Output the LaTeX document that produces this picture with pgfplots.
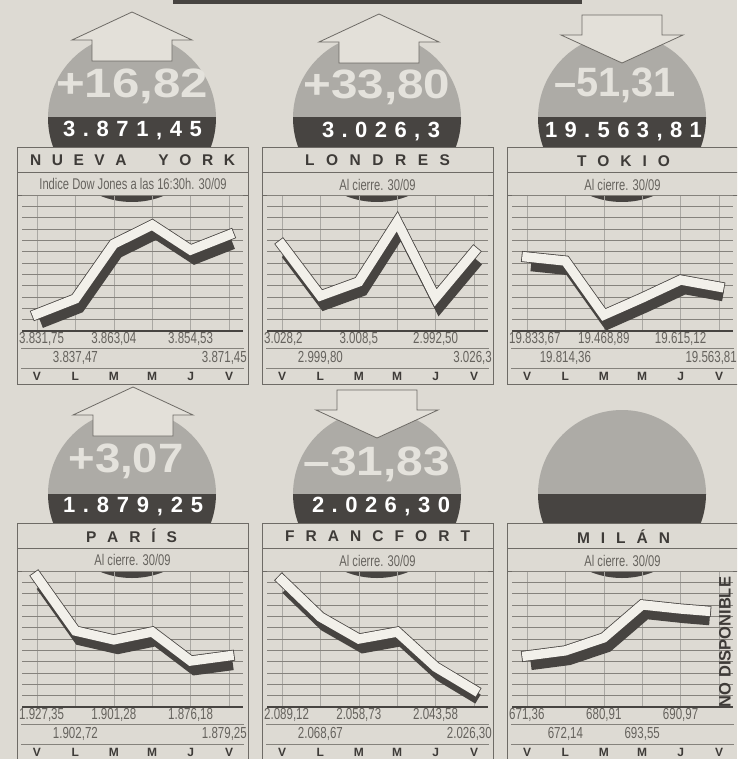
\documentclass[border=0pt]{standalone}
\usepackage{pgfplots}
\pgfplotsset{compat=1.18}
\usepackage{pgfplotstable}
\usepackage{graphicx}
\usepackage{fontspec}
\setmainfont{Liberation Sans}
\newfontfamily\cond[FakeStretch=0.72]{Liberation Sans}

\definecolor{paper}{HTML}{DDDAD3}
\definecolor{lightg}{HTML}{ADABA6}
\definecolor{darkc}{HTML}{474441}
\definecolor{boxc}{HTML}{6E6B66}
\definecolor{gridc}{HTML}{85827C}
\definecolor{txtc}{HTML}{3E3B38}
\definecolor{lblc}{HTML}{66635E}
\definecolor{bignumc}{HTML}{E4E2DC}
\definecolor{bandw}{HTML}{F2F0EA}
\definecolor{arrowf}{HTML}{E3E0D9}

\pgfplotstableread{
x y
0 3829.6
1 3836.9
2 3863.4
3 3872.6
4 3860.5
5 3867.8
}\nydata
\pgfplotstableread{
x y
0 3030.3
1 2997.2
2 3006.3
3 3045.2
4 2995.9
5 3025.7
}\londata
\pgfplotstableread{
x y
0 19823.0
1 19794.5
2 19409.9
3 19531.0
4 19659.2
5 19609.3
}\tokdata
\pgfplotstableread{
x y
0 1933.4
1 1898.6
2 1892.9
3 1898.0
4 1879.3
5 1882.6
}\pardata
\pgfplotstableread{
x y
0 2090.1
1 2069.4
2 2057.1
3 2061.0
4 2041.4
5 2028.5
}\fradata
\pgfplotstableread{
x y
0 671.2
1 673.4
2 679.1
3 693.6
4 691.8
4.65 690.9
}\mildata

\makeatletter
\newcommand\spreadtext[2]{\makebox[#1][s]{\@tfor\sp@c:=#2\do{\sp@c\hfill}\unskip}}
\makeatother

\tikzset{
 bignum/.style={text=bignumc, font=\bfseries\fontsize{41}{41}\selectfont, inner sep=0pt},
 bandnum/.style={text=white, font=\bfseries\fontsize{22}{22}\selectfont, inner sep=0pt},
 ttl/.style={text=txtc, font=\bfseries\fontsize{15.5}{16}\selectfont, inner sep=0pt},
 sub/.style={text=lblc, font=\cond\fontsize{15.5}{16}\selectfont, inner sep=0pt},
 lbl/.style={text=lblc, font=\cond\fontsize{16}{16}\selectfont, inner sep=0pt},
 day/.style={text=txtc, font=\bfseries\fontsize{12}{12}\selectfont, inner sep=0pt},
}

\pgfplotsset{
 shadowst/.style={no marks, draw=darkc, line width=10.5pt, xshift=4pt, yshift=-9pt, line join=miter},
 outlinest/.style={no marks, draw=darkc, line width=11pt, line cap=rect, line join=miter},
 bandst/.style={no marks, draw=bandw, line width=9.4pt, line cap=rect, line join=miter},
}

\newcommand\disc[2]{%
 \begin{scope}\clip (#1-90,#2-90) rectangle (#1+90,#2); \fill[lightg] (#1,#2) circle[radius=84]; \end{scope}
 \begin{scope}\clip (#1-90,#2) rectangle (#1+90,#2+90); \fill[darkc] (#1,#2) circle[radius=84]; \end{scope}}
\newcommand\uparr[2]{%
 \filldraw[fill=arrowf, draw=boxc, line width=.8pt] (#1,#2) -- (#1+60,#2+28) -- (#1+40,#2+28) -- (#1+40,#2+49) -- (#1-40,#2+49) -- (#1-40,#2+28) -- (#1-60,#2+28) -- cycle;}
\newcommand\downarr[2]{%
 \filldraw[fill=arrowf, draw=boxc, line width=.8pt] (#1-40,#2) -- (#1+40,#2) -- (#1+40,#2+20) -- (#1+61,#2+20) -- (#1,#2+48) -- (#1-61,#2+20) -- (#1-40,#2+20) -- cycle;}
\newcommand\pframe[2]{%
 \fill[paper] (#1,147+#2) rectangle (#1+231,195+#2);
 \draw[boxc,line width=.6pt] (#1,147+#2) rectangle (#1+231,172+#2);
 \draw[boxc,line width=.6pt] (#1,172+#2) -- (#1,195+#2) -- (#1+231,195+#2) -- (#1+231,172+#2);
 \draw[boxc,line width=.6pt] (#1,195+#2) -- (#1,384+#2) -- (#1+231,384+#2) -- (#1+231,195+#2);}
\newcommand\chart[5]{%
 \begin{axis}[at={(#1pt+5pt,-#2pt)}, anchor=south west, scale only axis,
   width=221pt, height=136pt, xmin=-0.39, xmax=5.365, ymin=#3, ymax=#4,
   axis line style={draw=none}, tick style={draw=none}, xtick={0,...,5}, xticklabels={},
   ytick=\empty, xmajorgrids, major grid style={gridc!70, line width=.5pt}, clip=false]
  \pgfplotsinvokeforeach{1,...,12}{\draw[gridc,line width=.6pt] (rel axis cs:0,##1/12) -- (rel axis cs:1,##1/12);}
  \draw[darkc,line width=1.6pt] (rel axis cs:0,0) -- (rel axis cs:1,0);
  \addplot[shadowst] table {#5};
  \addplot[outlinest] table {#5};
  \addplot[bandst] table {#5};
 \end{axis}}
\newcommand\lbls[8]{%
 \node[lbl,anchor=west] at (#1+2,#2+8) {#3};
 \node[lbl] at (#1+96.8,#2+8) {#4};
 \node[lbl] at (#1+173.6,#2+8) {#5};
 \node[lbl] at (#1+58.4,#2+27) {#6};
 \node[lbl] at (#1+135.2,#2+27) {#7};
 \node[lbl,anchor=east] at (#1+230,#2+27) {#8};
 \draw[gridc,line width=.5pt] (#1+4,#2+17) -- (#1+227,#2+17);
 \draw[gridc,line width=.5pt] (#1+4,#2+37) -- (#1+227,#2+37);
 \foreach \dn/\dl in {0/V,1/L,2/M,3/M,4/J,5/V}{\node[day] at (#1+20+38.4*\dn,#2+45) {\dl};}}

\begin{document}
\begin{tikzpicture}[x=1pt,y=-1pt]
\useasboundingbox (0,0) rectangle (737,759);
\clip (0,0) rectangle (737,759);
\fill[paper] (0,0) rectangle (737,759);
\fill[darkc] (173,0) rectangle (582,4);
% discs
\disc{132}{118}\disc{377}{118}\disc{622}{118}
\disc{132}{494}\disc{377}{494}\disc{622}{494}
% arrows
\uparr{132}{12}\uparr{379}{14}\downarr{622}{15}
\uparr{133}{387}\downarr{377}{390}
% big change numbers
\node[bignum] at (132,86) {\scalebox{1.2}[1]{+16,82}};
\node[bignum] at (377,87) {\scalebox{1.16}[1]{+33,80}};
\node[bignum] at (615,85) {\scalebox{0.97}[1]{–51,31}};
\node[bignum] at (126,461) {\scalebox{1.11}[1]{+3,07}};
\node[bignum] at (377,464) {\scalebox{1.17}[1]{–31,83}};
% index values on dark band
\node[bandnum] at (132.5,131) {\spreadtext{139pt}{3.871,45}};
\node[bandnum] at (381,132) {\spreadtext{118pt}{3.026,3}};
\node[bandnum] at (623.5,132) {\spreadtext{157pt}{19.563,81}};
\node[bandnum] at (133,507) {\spreadtext{140pt}{1.879,25}};
\node[bandnum] at (381,507) {\spreadtext{138pt}{2.026,30}};
% frames
\pframe{17}{0}\pframe{262}{0}\pframe{507}{0}
\pframe{17}{376}\pframe{262}{376}\pframe{507}{376}
% titles
\node[ttl] at (132.5,160) {\spreadtext{205pt}{NUEVA{\hfill}YORK}};
\node[ttl] at (377.5,160) {\spreadtext{145pt}{LONDRES}};
\node[ttl] at (623.5,161) {\spreadtext{93pt}{TOKIO}};
\node[ttl] at (131.5,536) {\spreadtext{91pt}{PARÍS}};
\node[ttl] at (377.5,536) {\spreadtext{185pt}{FRANCFORT}};
\node[ttl] at (623.5,537) {\spreadtext{93pt}{MILÁN}};
\node[sub] at (133,183.5) {Indice Dow Jones a las 16:30h. 30/09};
\node[sub] at (377.5,184.5) {Al cierre. 30/09};
\node[sub] at (622.5,185) {Al cierre. 30/09};
\node[sub] at (132.5,559.5) {Al cierre. 30/09};
\node[sub] at (377.5,560.5) {Al cierre. 30/09};
\node[sub] at (622.5,560.5) {Al cierre. 30/09};
% charts
\chart{17}{331}{3821.4}{3887.1}{\nydata}
\chart{262}{331}{2974.4}{3062.7}{\londata}
\chart{507}{331}{19296.0}{20264.7}{\tokdata}
\chart{17}{707}{1849.7}{1937.2}{\pardata}
\chart{262}{707}{2019.0}{2095.2}{\fradata}
\chart{507}{707}{648.7}{708.5}{\mildata}
% value labels
\lbls{17}{331}{3.831,75}{3.863,04}{3.854,53}{3.837,47}{}{3.871,45}
\lbls{262}{331}{3.028,2}{3.008,5}{2.992,50}{2.999,80}{}{3.026,3}
\lbls{507}{331}{19.833,67}{19.468,89}{19.615,12}{19.814,36}{}{19.563,81}
\lbls{17}{707}{1.927,35}{1.901,28}{1.876,18}{1.902,72}{}{1.879,25}
\lbls{262}{707}{2.089,12}{2.058,73}{2.043,58}{2.068,67}{}{2.026,30}
\lbls{507}{707}{671,36}{680,91}{690,97}{672,14}{693,55}{}
\node[text=txtc, font=\bfseries\fontsize{16.5}{17}\selectfont, rotate=90, inner sep=0pt] at (725,642) {NO DISPONIBLE};
\end{tikzpicture}
\end{document}
